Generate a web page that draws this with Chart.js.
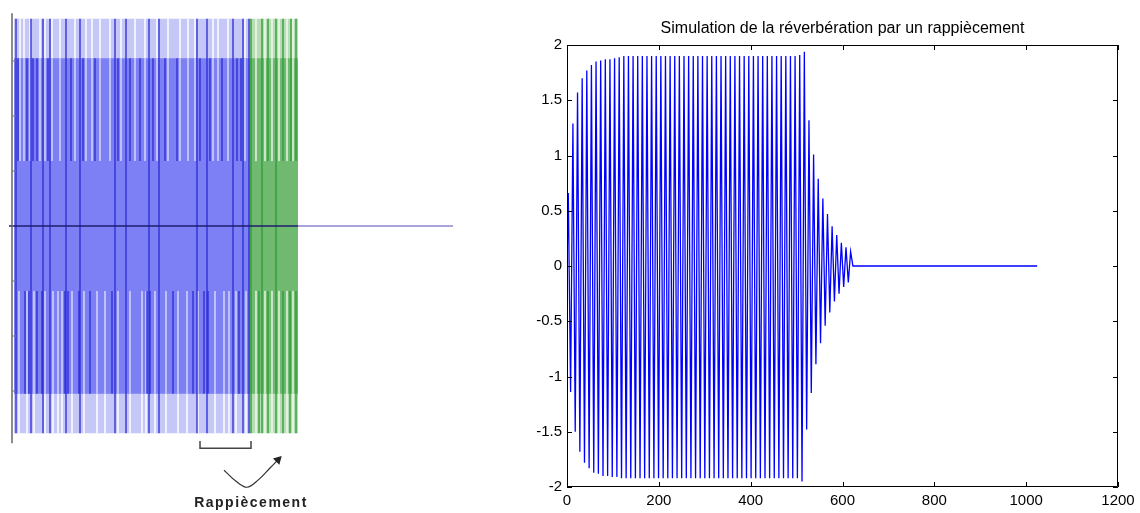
<!DOCTYPE html>
<html>
<head>
<meta charset="utf-8">
<script src="https://cdn.jsdelivr.net/npm/chart.js@4.4.1/dist/chart.umd.min.js"></script>
<style>
    body { margin: 0; background: #fff; }
    #page { position: relative; width: 1140px; height: 513px; overflow: hidden; }
    #sketch { position: absolute; left: 0; top: 0; }
    #reverb { position: absolute; left: 470px; top: 0; }
    #caption {
        position: absolute; left: 176px; top: 494px; width: 150px; text-align: center;
        font: bold 14px "Liberation Sans", Arial, sans-serif; letter-spacing: 1.5px; color: #222;
    }
</style>
</head>
<body>
<div id="page">
    <canvas id="sketch" width="470" height="513"></canvas>
    <canvas id="reverb" width="670" height="513"></canvas>
    <div id="caption">Rappiècement</div>
</div>
<script>
// ---- Reverb signal (right plot) ----
const signalLength = 1024;
const firstExtremum = 2.8;   // sample index of the first crest
const halfPeriod = 5.04;     // samples between a crest and the next trough

// crest / trough values while the patches pile up
const buildUp = [
    0.66, -1.14, 1.29, -1.50, 1.57, -1.68, 1.70, -1.78, 1.77, -1.83,
    1.82, -1.87, 1.85, -1.88, 1.86, -1.90, 1.87, -1.90, 1.87, -1.91,
    1.88, -1.91, 1.89, -1.92
];
// steady part
const steady = [
    1.90, -1.92, 1.90, -1.92, 1.90, -1.92, 1.90, -1.92, 1.90, -1.92,
    1.90, -1.92, 1.90, -1.92, 1.90, -1.92, 1.90, -1.92, 1.90, -1.92,
    1.90, -1.92, 1.90, -1.92, 1.90, -1.92, 1.90, -1.92, 1.90, -1.92,
    1.90, -1.92, 1.90, -1.92, 1.90, -1.92, 1.90, -1.92, 1.90, -1.92,
    1.90, -1.92, 1.90, -1.92, 1.90, -1.92, 1.90, -1.92, 1.90, -1.92,
    1.90, -1.92, 1.90, -1.92, 1.90, -1.92, 1.90, -1.92, 1.90, -1.92,
    1.90, -1.92, 1.90, -1.92, 1.90, -1.92, 1.90, -1.92, 1.90, -1.92,
    1.90, -1.92, 1.90, -1.92, 1.90, -1.92, 1.91, -1.95
];
// tail once the input stops
const decay = [
    1.94, -1.48, 1.32, -1.15, 1.01, -0.89, 0.79, -0.70, 0.61, -0.54,
    0.47, -0.42, 0.36, -0.32, 0.28, -0.25, 0.21, -0.19, 0.17, -0.15,
    0.13, 0
];

const xTicks = [0, 200, 400, 600, 800, 1000, 1200];
const yTicks = [-2, -1.5, -1, -0.5, 0, 0.5, 1, 1.5, 2];

// ---- Patching sketch (left) ----
const sketchTicks = [-3, -2, -1, 1, 2, 3];
const outerLevel = 3.77;
const middleLevel = 3.05;
const innerLevel = 1.18;
const originalSpan = [14, 250];
const patchSpan = [250, 298];
const baseline = [9, 453];
const axisSpan = [-3.95, 3.87];

// vertical strokes (x positions)
const blueFullLines = [16, 31, 43, 50, 66, 80, 115, 126, 149, 159, 197, 207, 233, 243, 249];
const blueUpperLines = [18, 27, 33, 37, 48, 71, 83, 95, 118, 130, 140, 153, 165, 177, 200, 210, 222, 237, 241];
const blueLowerLines = [25, 29, 37, 42, 65, 68, 79, 90, 112, 147, 150, 173, 193, 204, 208, 239];
const blueUpperGaps = [20, 24, 30, 40, 45, 52, 60, 75, 86, 92, 100, 110, 121, 135, 145, 157, 168, 180, 188, 195, 213, 218, 228, 245];
const blueLowerGaps = [19, 27, 34, 45, 53, 58, 62, 72, 84, 97, 105, 118, 130, 142, 146, 155, 166, 178, 187, 198, 215, 224, 229, 236, 246];
const greenFullLines = [251, 262, 276];
const greenUpperLines = [268, 283, 291, 296];
const greenLowerLines = [259, 268, 283, 290, 296];
const greenGaps = [256, 265, 272, 279, 287, 293];

// bracket under the overlap and the curved arrow
const bracketX = [200, 251];
const bracketY = [-3.91, -4.04];
const arrowX = [224, 236, 247, 258, 270, 278];
const arrowY = [-4.44, -4.64, -4.75, -4.62, -4.40, -4.25];

function band(x0, x1, lo, hi, color) {
    return {
        data: [{ x: x0, y: hi }, { x: x1, y: hi }],
        fill: { value: lo }, backgroundColor: color,
        borderWidth: 0, pointRadius: 0
    };
}

function strokes(xs, lo, hi, color, width) {
    const data = [];
    xs.forEach(x => { data.push({ x, y: hi }, { x, y: lo }, { x, y: null }); });
    return { data, borderColor: color, borderWidth: width, pointRadius: 0, spanGaps: false, fill: false };
}

function polyline(xs, ys, color, width) {
    return {
        data: xs.map((x, i) => ({ x, y: ys[i] })),
        borderColor: color, borderWidth: width, pointRadius: 0, fill: false
    };
}

function axisTicks(values, x0, x1, color) {
    const data = [];
    values.forEach(v => { data.push({ x: x0, y: v }, { x: x1, y: v }, { x: x0, y: null }); });
    return { data, borderColor: color, borderWidth: 1, pointRadius: 0, spanGaps: false, fill: false };
}

const blueLight = '#c5c7f7', blueMid = '#7d80f4', blueDark = '#2a2ad4';
const greenLight = '#b8dcb4', greenMid = '#70b970', greenDark = '#2b9a35';

const curve = polyline(arrowX, arrowY, '#333333', 1.2);
curve.tension = 0.35;
// arrow head on the last point of the curve
curve.pointRadius = ctx => (ctx.dataIndex === arrowX.length - 1 ? 4 : 0);
curve.pointStyle = 'triangle';
curve.pointRotation = 45;
curve.pointBackgroundColor = '#222222';
curve.pointBorderColor = '#222222';

// listed from back to front
const layers = [
    band(originalSpan[0], originalSpan[1], -outerLevel, outerLevel, blueLight),
    band(patchSpan[0], patchSpan[1], -outerLevel, outerLevel, greenLight),
    strokes(blueUpperGaps, middleLevel, outerLevel, '#ffffff', 1.5),
    strokes(blueLowerGaps, -outerLevel, -middleLevel, '#ffffff', 1.5),
    strokes(greenGaps, middleLevel, outerLevel, '#ffffff', 1.2),
    strokes(greenGaps, -outerLevel, -middleLevel, '#ffffff', 1.2),
    band(originalSpan[0], originalSpan[1], -middleLevel, middleLevel, blueMid),
    band(patchSpan[0], patchSpan[1], -middleLevel, middleLevel, greenMid),
    strokes(blueUpperGaps, innerLevel, middleLevel, '#e2e3fb', 1.3),
    strokes(blueLowerGaps, -middleLevel, -innerLevel, '#e2e3fb', 1.3),
    strokes(greenGaps, innerLevel, middleLevel, '#d6ecd3', 1),
    strokes(greenGaps, -middleLevel, -innerLevel, '#d6ecd3', 1),
    strokes(blueUpperLines, innerLevel, middleLevel, blueDark, 1.3),
    strokes(blueLowerLines, -middleLevel, -innerLevel, blueDark, 1.3),
    strokes(blueFullLines, -outerLevel, outerLevel, blueDark, 1.3),
    strokes(greenUpperLines, innerLevel, outerLevel, greenDark, 1.3),
    strokes(greenLowerLines, -outerLevel, -innerLevel, greenDark, 1.3),
    strokes(greenFullLines, -outerLevel, outerLevel, greenDark, 1.3),
    polyline([baseline[0], patchSpan[1]], [0, 0], '#1e1e6e', 1.5),
    polyline([patchSpan[1], baseline[1]], [0, 0], '#8c86cc', 1.5),
    polyline([12, 12], axisSpan, '#666666', 1.5),
    axisTicks(sketchTicks, 12, 16, '#777777'),
    polyline([bracketX[0], bracketX[0], bracketX[1], bracketX[1]],
             [bracketY[0], bracketY[1], bracketY[1], bracketY[0]], '#444444', 1.5),
    curve
];

new Chart(document.getElementById('sketch'), {
    type: 'line',
    data: { datasets: layers.slice().reverse() },
    options: {
        responsive: false,
        animation: false,
        layout: { padding: 0, autoPadding: false },
        plugins: { legend: { display: false }, tooltip: { enabled: false } },
        scales: {
            x: { type: 'linear', min: 0, max: 470, display: false },
            y: { type: 'linear', min: -5.218, max: 4.109, display: false }
        }
    }
});

// reverb signal points
const extrema = buildUp.concat(steady, decay);
const signal = [{ x: 0, y: 0 }];
extrema.forEach((v, i) => signal.push({ x: firstExtremum + halfPeriod * i, y: v }));
signal.push({ x: signalLength, y: 0 });

// box around the plot with inward ticks on all four sides
const boxTicks = {
    id: 'boxTicks',
    afterDraw(chart) {
        const { ctx, chartArea: a, scales: { x, y } } = chart;
        const len = 5;
        ctx.save();
        ctx.strokeStyle = '#000';
        ctx.lineWidth = 1;
        ctx.beginPath();
        ctx.rect(a.left + 0.5, a.top + 0.5, a.right - a.left - 1, a.bottom - a.top - 1);
        xTicks.forEach(v => {
            const px = Math.round(x.getPixelForValue(v)) + 0.5;
            ctx.moveTo(px, a.bottom); ctx.lineTo(px, a.bottom - len);
            ctx.moveTo(px, a.top); ctx.lineTo(px, a.top + len);
        });
        yTicks.forEach(v => {
            const py = Math.round(y.getPixelForValue(v)) + 0.5;
            ctx.moveTo(a.left, py); ctx.lineTo(a.left + len, py);
            ctx.moveTo(a.right, py); ctx.lineTo(a.right - len, py);
        });
        ctx.stroke();
        ctx.restore();
    }
};

const labelFont = { family: '"Liberation Sans", Arial, sans-serif', size: 15 };

new Chart(document.getElementById('reverb'), {
    type: 'line',
    data: {
        datasets: [{
            data: signal,
            borderColor: '#0000ff',
            borderWidth: 1.3,
            pointRadius: 0,
            tension: 0,
            fill: false
        }]
    },
    options: {
        responsive: false,
        animation: false,
        layout: { padding: { left: 0, right: 22, top: 0, bottom: 0 }, autoPadding: false },
        plugins: {
            legend: { display: false },
            tooltip: { enabled: false },
            title: {
                display: true,
                fullSize: false,
                text: 'Simulation de la réverbération par un rappiècement',
                color: '#000',
                font: { family: labelFont.family, size: 16, weight: 'normal' },
                padding: { top: 19, bottom: 6.8 }
            }
        },
        scales: {
            x: {
                type: 'linear', min: 0, max: 1200,
                afterBuildTicks: s => { s.ticks = xTicks.map(v => ({ value: v })); },
                ticks: { color: '#000', font: labelFont, padding: 5, maxRotation: 0, callback: v => String(v) },
                grid: { display: false, drawTicks: false },
                border: { display: false },
                afterFit: s => { s.height = 26; }
            },
            y: {
                type: 'linear', min: -2, max: 2,
                afterBuildTicks: s => { s.ticks = yTicks.map(v => ({ value: v })); },
                ticks: { color: '#000', font: labelFont, padding: 5, callback: v => String(v) },
                grid: { display: false, drawTicks: false },
                border: { display: false },
                afterFit: s => { s.width = 97; }
            }
        }
    },
    plugins: [boxTicks]
});
</script>
</body>
</html>
